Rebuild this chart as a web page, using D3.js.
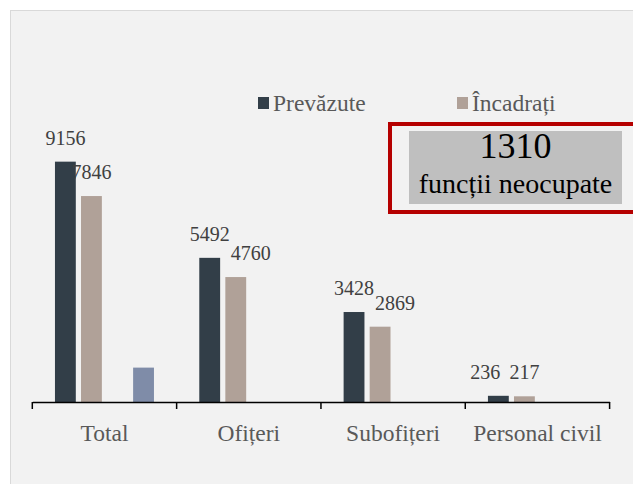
<!DOCTYPE html>
<html>
<head>
<meta charset="utf-8">
<script src="https://cdn.jsdelivr.net/npm/d3@7"></script>
<style>
  body { margin: 0; background: #fff; }
</style>
</head>
<body>
<script>
// date
const categorii = ["Total", "Ofițeri", "Subofițeri", "Personal civil"];
const prevazute = [9156, 5492, 3428, 236];
const incadrati = [7846, 4760, 2869, 217];
const gol = [null, null, null, null];          // serie goala (loc liber in grup)
const neocupate = [1310, null, null, null];
const serii = ["Prevăzute", "Încadrați", "gol", "Neocupate"];
const culori = ["#323e48", "#b0a198", "#f2f2f2", "#7f8ca8"];

// mic decalaj manual al etichetelor (ca in original)
const decalaj = [[0, 0], [0, 15], [0, 15], [-13, 0]];

const FONT = "'Liberation Serif', serif";
const W = 633, H = 484;
const x0Start = 32.3, x0End = 609.6, baza = 402;

const svg = d3.select("body").append("svg")
  .attr("width", W).attr("height", H)
  .style("font-family", FONT);

// fundal
svg.append("rect")
  .attr("x", 10.5).attr("y", 10.5)
  .attr("width", 640).attr("height", 500)
  .attr("fill", "#f2f2f2").attr("stroke", "#d9d9d9");

// scale
const x0 = d3.scaleBand().domain(categorii).range([x0Start, x0End]);
const x1 = d3.scaleBand().domain(serii).range([0, x0.bandwidth()])
  .paddingInner(0.2).paddingOuter(0.87);
const y = d3.scaleLinear().domain([0, 10000]).range([baza, 139.5]);

const valori = [prevazute, incadrati, gol, neocupate];

// bare
categorii.forEach((c, i) => {
  const g = svg.append("g").attr("transform", `translate(${x0(c)},0)`);
  valori.forEach((v, s) => {
    if (v[i] == null) return;
    g.append("rect")
      .attr("x", x1(serii[s]))
      .attr("y", y(v[i]))
      .attr("width", x1.bandwidth())
      .attr("height", baza - y(v[i]))
      .attr("fill", culori[s]);
  });
  // etichete valori
  [prevazute, incadrati].forEach((v, s) => {
    g.append("text")
      .attr("x", x1(serii[s]) + x1.bandwidth() / 2 + decalaj[i][s])
      .attr("y", y(v[i]) - 17)
      .attr("text-anchor", "middle")
      .style("font-family", FONT)
      .attr("font-size", "20px")
      .attr("fill", "#404040")
      .text(v[i]);
  });
});

// axa X
const axaX = svg.append("g")
  .attr("transform", `translate(0,${baza})`)
  .call(d3.axisBottom(x0).tickSize(0).tickSizeOuter(0).tickPadding(22));
axaX.attr("font-family", null);
axaX.select(".domain").attr("stroke", "#000").attr("stroke-width", 1.5);
axaX.selectAll("text")
  .attr("font-size", "23.5px")
  .style("font-family", FONT)
  .attr("fill", "#595959");
axaX.selectAll(".liniuta")
  .data(categorii.map(c => x0(c)).concat([x0End]))
  .enter().append("line")
  .attr("x1", d => d).attr("x2", d => d)
  .attr("y1", 0).attr("y2", 7)
  .attr("stroke", "#000").attr("stroke-width", 1.5);

// legenda
const legenda = [{nume: serii[0], c: culori[0], x: 258}, {nume: serii[1], c: culori[1], x: 457}];
legenda.forEach(l => {
  svg.append("rect").attr("x", l.x).attr("y", 97).attr("width", 11).attr("height", 12).attr("fill", l.c);
  svg.append("text").attr("x", l.x + 15).attr("y", 111)
    .style("font-family", FONT)
    .attr("font-size", "23.5px").attr("fill", "#595959").text(l.nume);
});

// caseta functii neocupate
svg.append("rect")
  .attr("x", 390).attr("y", 124)
  .attr("width", 260).attr("height", 88)
  .attr("fill", "none").attr("stroke", "#b50000").attr("stroke-width", 4);
svg.append("rect")
  .attr("x", 409).attr("y", 131)
  .attr("width", 213).attr("height", 73)
  .attr("fill", "#bfbfbf");
svg.append("text")
  .attr("x", 515.5).attr("y", 158)
  .attr("text-anchor", "middle").attr("font-size", "36px").attr("fill", "#000")
  .style("font-family", FONT)
  .text(neocupate[0]);
svg.append("text")
  .attr("x", 515.5).attr("y", 193)
  .attr("text-anchor", "middle").attr("font-size", "28px").attr("fill", "#000")
  .style("font-family", FONT)
  .text("funcții neocupate");
</script>
</body>
</html>
